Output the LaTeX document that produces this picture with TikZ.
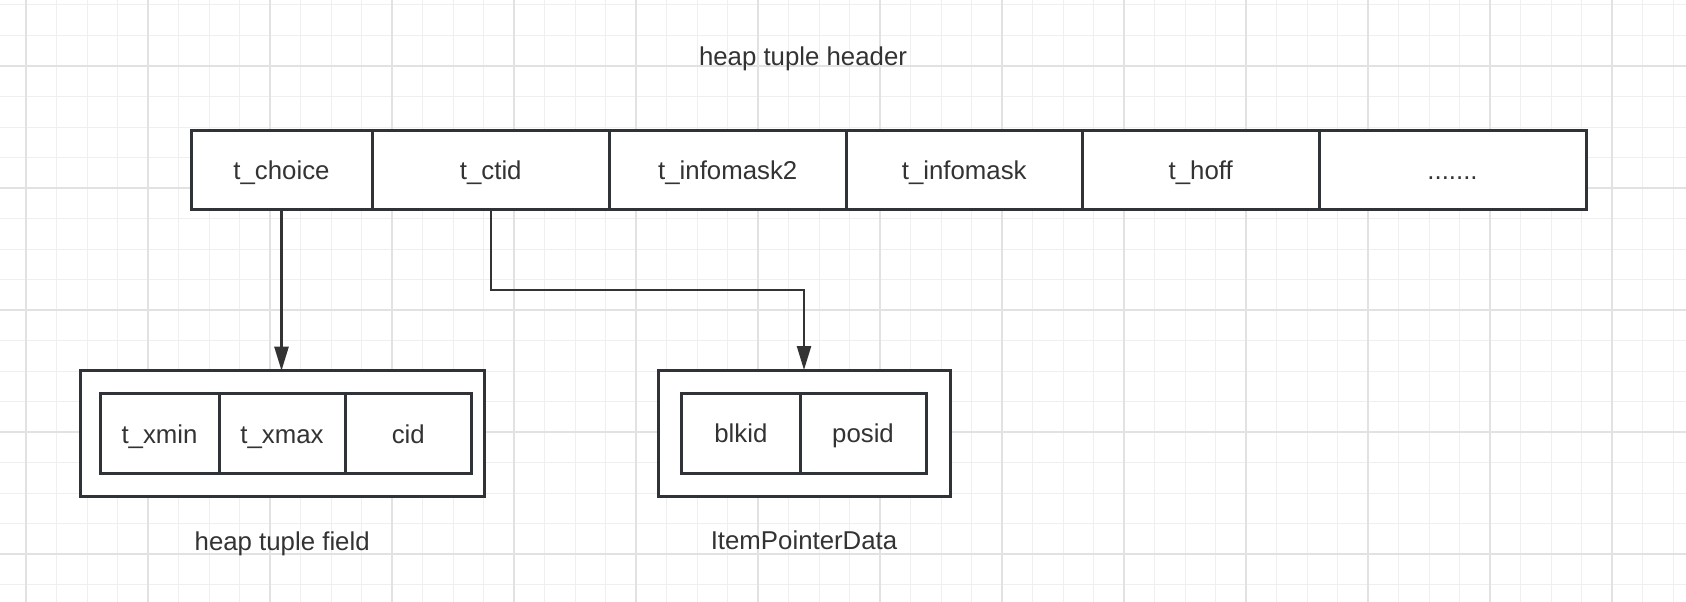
\documentclass[tikz,border=0pt]{standalone}
\usepackage{fontspec}
\setmainfont{Liberation Sans}
\usetikzlibrary{positioning, arrows.meta}

\definecolor{ink}{HTML}{2F3337}
\definecolor{txt}{HTML}{333333}
\definecolor{gminor}{HTML}{EFEFEF}
\definecolor{gmajor}{HTML}{E2E2E2}

\begin{document}
\begin{tikzpicture}[x=1pt, y=-1pt,
  cell/.style={draw=ink, line width=3pt, fill=white, outer sep=0pt, inner sep=0pt,
    minimum height=79pt, text height=24.5pt, text depth=5.5pt, text=txt,
    font=\fontsize{25.8pt}{31pt}\selectfont},
  frame/.style={draw=ink, line width=3pt, fill=white, outer sep=0pt, minimum height=126pt},
  lbl/.style={inner sep=0pt, text=txt, font=\fontsize{25.8pt}{31pt}\selectfont},
  link/.style={draw=txt, line width=2.4pt, -{Triangle[length=24pt, width=14pt]}},
  minor/.style={draw=gminor, line width=1pt},
  major/.style={draw=gmajor, line width=1.8pt}]
\useasboundingbox (0,0) rectangle (1686,602);
\fill[white] (0,0) rectangle (1686,602);

% background grid
\foreach \x in {-4.5,26,...,1700} \draw[minor] (\x,0) -- (\x,602);
\foreach \y in {5,35.5,...,610} \draw[minor] (0,\y) -- (1686,\y);
\foreach \x in {26,148,...,1700} \draw[major] (\x,0) -- (\x,602);
\foreach \y in {66,188,...,610} \draw[major] (0,\y) -- (1686,\y);

% header row
\node[lbl] (LH) at (803,59) {heap tuple header};
\node[cell, minimum width=181pt] (H0) at (281.5,169.5) {t\_choice};
\node[cell, minimum width=237.5pt, right=0pt of H0] (H1) {t\_ctid};
\node[cell, minimum width=236.5pt, right=0pt of H1] (H2) {t\_infomask2};
\node[cell, minimum width=236.5pt, right=0pt of H2] (H3) {t\_infomask};
\node[cell, minimum width=236.5pt, right=0pt of H3] (H4) {t\_hoff};
\node[cell, minimum width=267pt, right=0pt of H4] (H5) {.......};

% heap tuple field
\node[frame, minimum width=403.6pt] (FB) at (282.2,433.7) {};
\node[cell, minimum width=119pt, minimum height=80pt, right=19.6pt of FB.west] (F0) {t\_xmin};
\node[cell, minimum width=126pt, minimum height=80pt, right=0pt of F0] (F1) {t\_xmax};
\node[cell, minimum width=126.5pt, minimum height=80pt, right=0pt of F1] (F2) {cid};
\node[lbl, below=35pt of FB] (LF) {heap tuple field};

% item pointer
\node[frame, minimum width=292pt] (PB) at (804,433) {};
\node[cell, minimum width=118.3pt, minimum height=80pt, right=23.7pt of PB.west] (P0) {blkid};
\node[cell, minimum width=126pt, minimum height=80pt, right=0pt of P0] (P1) {posid};
\node[lbl, below=35pt of PB] (LP) {ItemPointerData};

\draw[link] (H0.south) -- (H0.south |- FB.north);
\draw[link] (H1.south) -- ++(0,81) -| (PB.north);
\end{tikzpicture}
\end{document}
